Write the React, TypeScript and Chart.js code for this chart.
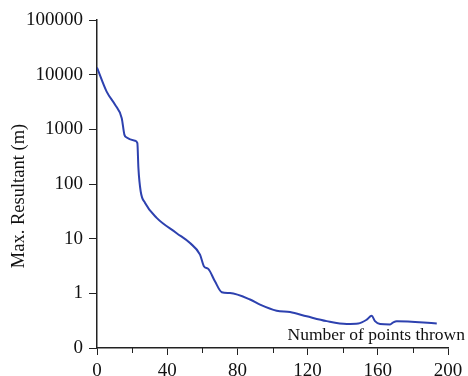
import React, { useEffect, useRef } from 'react';
import { Chart, registerables } from 'chart.js';

Chart.register(...registerables);

// Data
const pointsThrown = [0, 5.5, 10.3, 14.1, 15.6, 16.9, 21.7, 23.0, 23.6, 24.9, 27.4, 34.0, 45.4, 53.0, 58.7, 61.0, 63.4, 67.2, 71.1, 75.8, 87.2, 92.9, 102.4, 110.0, 119.5, 130.9, 142.3, 148.9, 153.7, 156.5, 158.4, 161.3, 167.0, 168.8, 170.8, 193.6];
const maxResultant = [13500, 4900, 2820, 1600, 800, 710, 620, 560, 195, 73, 45, 24, 12.6, 8.3, 5.1, 3.1, 2.8, 1.66, 1.05, 1.01, 0.77, 0.62, 0.48, 0.455, 0.38, 0.31, 0.275, 0.28, 0.33, 0.39, 0.31, 0.275, 0.27, 0.295, 0.31, 0.28];

const xMajorTicks = [0, 40, 80, 120, 160, 200];
const xMinorTicks = [20, 60, 100, 140, 180];
const yTicks = [0.1, 1, 10, 100, 1000, 10000, 100000];

const xTitle = 'Number of points thrown';
const yTitle = 'Max. Resultant (m)';

const FONT = '"Liberation Serif", "Times New Roman", serif';
const AXIS_COLOR = '#222';
const LINE_COLOR = 'rgb(45,65,175)';

const annotations = {
  id: 'annotations',
  afterDraw(chart: any) {
    const { ctx, chartArea, scales } = chart;
    const x = scales.x;
    ctx.save();
    ctx.strokeStyle = AXIS_COLOR;
    ctx.lineWidth = 1;
    for (const v of xMinorTicks) {
      const px = Math.round(x.getPixelForValue(v)) + 0.5;
      ctx.beginPath();
      ctx.moveTo(px, chartArea.bottom);
      ctx.lineTo(px, chartArea.bottom + 5);
      ctx.stroke();
    }
    ctx.fillStyle = '#111';
    ctx.font = `17.5px ${FONT}`;
    ctx.textAlign = 'right';
    ctx.textBaseline = 'alphabetic';
    ctx.fillText(xTitle, chartArea.right + 17, chartArea.bottom - 8);

    ctx.font = `18.5px ${FONT}`;
    ctx.translate(19, 196);
    ctx.rotate(-Math.PI / 2);
    ctx.textAlign = 'center';
    ctx.textBaseline = 'middle';
    ctx.fillText(yTitle, 0, 0);
    ctx.restore();
  },
};

export default function App() {
  const canvasRef = useRef<HTMLCanvasElement | null>(null);

  useEffect(() => {
    if (!canvasRef.current) return;
    const chart = new Chart(canvasRef.current, {
      type: 'line',
      data: {
        datasets: [
          {
            label: yTitle,
            data: pointsThrown.map((x, i) => ({ x, y: maxResultant[i] })),
            borderColor: LINE_COLOR,
            borderWidth: 2,
            pointRadius: 0,
            fill: false,
            cubicInterpolationMode: 'monotone',
          },
        ],
      },
      options: {
        animation: false,
        responsive: false,
        devicePixelRatio: 1,
        layout: { padding: { left: 0, top: 20, right: 20, bottom: 0 } },
        plugins: { legend: { display: false }, tooltip: { enabled: false }, title: { display: false } },
        scales: {
          x: {
            type: 'linear',
            min: 0,
            max: 200,
            afterBuildTicks: (scale: any) => {
              scale.ticks = xMajorTicks.map((v) => ({ value: v }));
            },
            afterFit: (scale: any) => {
              scale.height = 28;
            },
            ticks: {
              autoSkip: false,
              maxRotation: 0,
              padding: 5,
              color: '#111',
              font: { family: FONT, size: 19 },
              callback: (v: any) => String(v),
            },
            grid: {
              drawOnChartArea: false,
              drawTicks: true,
              tickLength: 7,
              color: AXIS_COLOR,
              lineWidth: 1,
            },
            border: { display: true, color: AXIS_COLOR, width: 1.5 },
          },
          y: {
            type: 'logarithmic',
            min: 0.1,
            max: 100000,
            afterBuildTicks: (scale: any) => {
              scale.ticks = yTicks.map((v) => ({ value: v }));
            },
            afterFit: (scale: any) => {
              scale.width = 97;
            },
            ticks: {
              autoSkip: false,
              padding: 6,
              color: '#111',
              font: { family: FONT, size: 19 },
              callback: (v: any) => (Number(v) < 0.5 ? '0' : String(Number(v))),
            },
            grid: {
              drawOnChartArea: false,
              drawTicks: true,
              tickLength: 8,
              color: AXIS_COLOR,
              lineWidth: 1,
            },
            border: { display: true, color: AXIS_COLOR, width: 1.5 },
          },
        },
      },
      plugins: [annotations],
    } as any);
    return () => chart.destroy();
  }, []);

  return (
    <div style={{ position: 'absolute', left: 0, top: 0, width: 468, height: 376, background: '#fff' }}>
      <canvas ref={canvasRef} width={468} height={376} style={{ display: 'block', width: 468, height: 376 }} />
    </div>
  );
}
